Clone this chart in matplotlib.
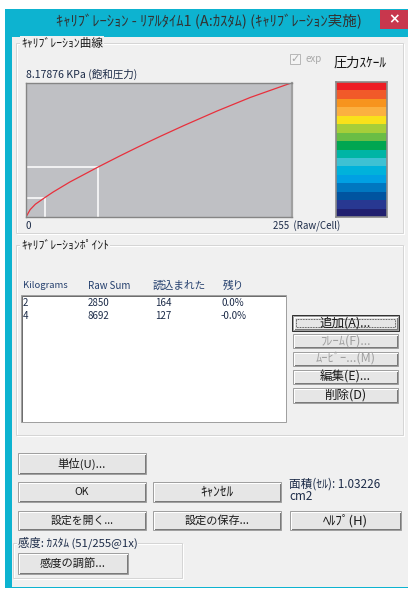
import matplotlib.pyplot as plt
from matplotlib.patches import Rectangle

plt.rcParams['font.family'] = ['Noto Sans CJK JP', 'DejaVu Sans']

# calibration curve (raw 0..255 -> kPa)
raw_values = [0, 4, 9, 18, 26, 42, 69, 90, 106, 119, 129, 151, 183, 215, 255]
kpa_values = [0, 0.45, 0.78, 1.18, 1.52, 2.13, 3.04, 3.72, 4.22, 4.62, 4.92, 5.56, 6.45, 7.28, 8.17876]
guide_raw = [18, 69]
guide_kpa = [1.18, 3.04]
sat_kpa = 8.17876

# pressure scale, top to bottom
scale_colors = ['#ED1C24', '#F15A29', '#F7941E', '#FBB040', '#F9E11A', '#A6CE39',
                '#6ABD45', '#00A651', '#00B5A5', '#3EC1D3', '#00B2DB', '#00A0E3',
                '#0077C0', '#0054A0', '#283891', '#21206F']

col_headers = ['Kilograms', 'Raw Sum', '読込まれた', '残り']
kilograms = ['2', '4']
raw_sums = ['2850', '8692']
read_counts = ['164', '127']
residuals = ['0.0%', '-0.0%']

W, H = 408, 590
PX = 0.72  # one pixel in points
TXT = '#1c2b48'
BG = '#F0F0F0'

fig = plt.figure(figsize=(W / 100, H / 100), dpi=100)
fig.patch.set_facecolor('white')
ax = fig.add_axes([0, 0, 1, 1])
ax.set_xlim(0, W)
ax.set_ylim(H, 0)
ax.axis('off')


def rect(x0, y0, x1, y1, fc='none', ec='none', lw=PX, z=1, ls='-'):
    ax.add_patch(Rectangle((x0, y0), x1 - x0, y1 - y0, fc=fc, ec=ec, lw=lw, zorder=z, ls=ls))


def txt(x, y, s, size=7, color=TXT, ha='left', **kw):
    ax.text(x, y, s, fontsize=size, color=color, ha=ha, va='center', zorder=5, **kw)


def group(x0, y0, x1, y1, label, color='#1a1a1a', size=8.4):
    rect(x0, y0, x1, y1, ec='#D5D5D5', z=2)
    rect(x0 + 1, y0 + 1, x1 + 1, y1 + 1, ec='white', z=1.9)
    t = ax.text(x0 + 5, y0, label, fontsize=size, color=color, ha='left', va='center', zorder=5)
    t.set_bbox(dict(fc=BG, ec='none', pad=0.5))


def button(x0, y0, x1, y1, label, size=8, enabled=True, focus=False):
    rect(x0, y0, x1, y1, fc='#E6E6E6', ec='#A0A0A0', z=3)
    ax.plot([x0 + 1, x1 - 1, x1 - 1], [y1 - 1, y1 - 1, y0 + 1], color='#7A7A7A', lw=PX, zorder=3.1)
    ax.plot([x0 + 1, x0 + 1, x1 - 1], [y1 - 1, y0 + 1, y0 + 1], color='white', lw=PX, zorder=3.1)
    if focus:
        rect(x0 - 1, y0 - 1, x1 + 1, y1 + 1, ec='#333333', lw=PX, z=3.2)
        rect(x0 + 3, y0 + 3, x1 - 3, y1 - 3, ec='#222222', lw=PX * 0.8, ls=(0, (1, 1)), z=3.2)
    txt((x0 + x1) / 2, (y0 + y1) / 2, label, size=size,
        color='#1a1a1a' if enabled else '#A0A0A0', ha='center')


# window frame
rect(5, 9, W + 2, 588, fc='#0DB3D0')
rect(12, 37, W + 2, 587, fc=BG, z=1.1)
rect(380, 10, 408, 29, fc='#C8374D', z=1.2)
txt(394, 19, '×', size=10, color='white', ha='center', family='DejaVu Sans', weight='bold')
txt(209, 22, 'ｷｬﾘﾌﾞﾚｰｼｮﾝ - ﾘｱﾙﾀｲﾑ1 (A:ｶｽﾀﾑ) (ｷｬﾘﾌﾞﾚｰｼｮﾝ実施)', size=10.5, color='#333333', ha='center')

# calibration curve group
group(16, 43, 403, 233, 'ｷｬﾘﾌﾞﾚｰｼｮﾝ曲線')
rect(290, 54, 300, 64, fc='#F4F4F4', ec='#B8B8B8', z=3)
txt(295, 59, '✓', size=8, color='#A8A8A8', ha='center', family='DejaVu Sans')
txt(306, 59, 'exp', size=7, color='#A8A8A8')
txt(334, 63, '圧力ｽｹｰﾙ', size=9.5, color='#111111')
txt(26, 74, '%.5f KPa (飽和圧力)' % sat_kpa, size=7.6)
txt(26, 226, '0', size=7)
txt(273, 226, '255  (Raw/Cell)', size=7)

cax = fig.add_axes([26 / W, 1 - 217 / H, 266 / W, 134.3 / H])
cax.set_facecolor('#BFC0C4')
cax.set_xlim(0, 255)
cax.set_ylim(0, sat_kpa)
for gx, gy in zip(guide_raw, guide_kpa):
    cax.plot([0, gx, gx], [gy, gy, 0], color='white', lw=1.1)
cax.plot(raw_values, kpa_values, color='#E8303C', lw=0.9)
cax.set_xticks([])
cax.set_yticks([])
for s in cax.spines.values():
    s.set_color('#858585')
    s.set_linewidth(1)
cax.spines['right'].set_color('#A0A0A0')
cax.spines['right'].set_linewidth(1.6)

sax = fig.add_axes([336 / W, 1 - 217 / H, 51 / W, 135 / H])
sax.bar([0] * len(scale_colors), [1] * len(scale_colors), bottom=list(range(len(scale_colors)))[::-1],
        color=scale_colors, width=1, align='edge')
sax.set_xlim(0, 1)
sax.set_ylim(0, len(scale_colors))
sax.set_xticks([])
sax.set_yticks([])
for s in sax.spines.values():
    s.set_color('#8A8A8A')
    s.set_linewidth(1.2)

# calibration points group
group(16, 245, 403, 435, 'ｷｬﾘﾌﾞﾚｰｼｮﾝﾎﾟｲﾝﾄ')
col_x = [23, 88, 153, 223]
col_size = [6.8, 7, 7.7, 7.7]
for cx, h, fs in zip(col_x, col_headers, col_size):
    txt(cx, 286, h, size=fs, color='#25406e')
rect(21, 295, 286, 422, fc='white', ec='#A0A0A0', z=2)
ax.plot([22, 22, 285], [421, 296, 296], color='#6E6E6E', lw=PX, zorder=2.1)
for i in range(len(kilograms)):
    y = 303 + i * 13
    txt(23, y, kilograms[i])
    txt(88, y, raw_sums[i])
    txt(155, y, read_counts[i])
    txt(221, y, residuals[i])

button(293, 316, 398, 330, '追加(A)...', size=9, focus=True)
button(293, 334, 398, 348, 'ﾌﾚｰﾑ(F)...', size=9, enabled=False)
button(293, 352, 398, 366, 'ﾑｰﾋﾞｰ...(M)', size=9, enabled=False)
button(293, 370, 398, 384, '編集(E)...', size=9)
button(293, 388, 398, 403, '削除(D)', size=9)

# bottom buttons
button(18, 453, 146, 474, '単位(U)...', size=8.2)
button(18, 482, 146, 502, 'OK', size=7.5)
button(153, 482, 281, 502, 'ｷｬﾝｾﾙ', size=9.5)
txt(289, 484, '面積(ｾﾙ): 1.03226', size=8.4)
txt(289, 497, 'cm2', size=8.4)
button(18, 511, 146, 530, '設定を開く...', size=7.8)
button(153, 511, 281, 530, '設定の保存...', size=8)
button(290, 511, 401, 530, 'ﾍﾙﾌﾟ(H)', size=9.5)

group(13, 543, 182, 578, '感度: ｶｽﾀﾑ (51/255@1x)', color=TXT, size=8.2)
button(18, 553, 128, 574, '感度の調節...', size=8.1)

fig.savefig('out.png', dpi=100)
